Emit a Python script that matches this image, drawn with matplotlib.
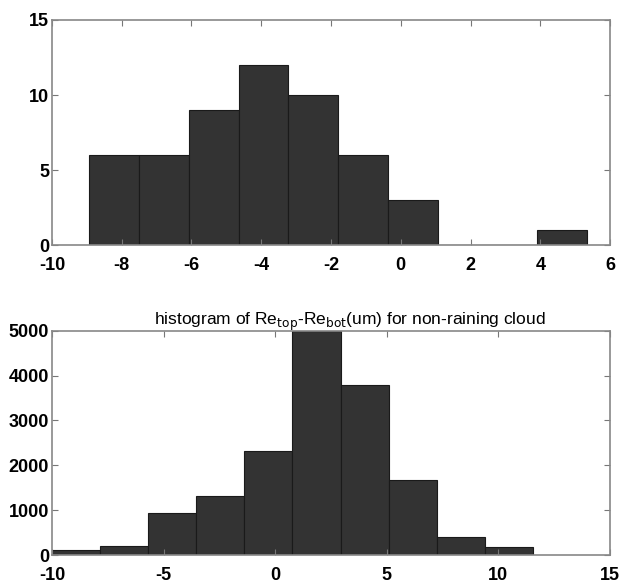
import matplotlib.pyplot as plt
import numpy as np

# histogram data (bin edges and counts)
top_edges = [-8.93, -7.50, -6.08, -4.65, -3.22, -1.80, -0.37, 1.06, 2.48, 3.91, 5.34]
top_counts = [6, 6, 9, 12, 10, 6, 3, 0, 0, 1]

bot_edges = [-10.03, -7.87, -5.70, -3.54, -1.39, 0.77, 2.93, 5.09, 7.24, 9.40, 11.56]
bot_counts = [110, 205, 930, 1310, 2310, 4990, 3790, 1670, 410, 175]

top_xticks = [-10, -8, -6, -4, -2, 0, 2, 4, 6]
top_yticks = [0, 5, 10, 15]
bot_xticks = [-10, -5, 0, 5, 10, 15]
bot_yticks = [0, 1000, 2000, 3000, 4000, 5000]

plt.rcParams['font.family'] = ['Liberation Sans', 'DejaVu Sans']
plt.rcParams['axes.unicode_minus'] = False

fig = plt.figure(figsize=(6.21, 5.88), dpi=100)
ax1 = fig.add_axes([0.0837, 0.5833, 0.8986, 0.3827])
ax2 = fig.add_axes([0.0837, 0.0561, 0.8986, 0.3815])


def draw(ax, edges, counts, xticks, yticks):
    edges = np.array(edges)
    ax.bar(edges[:-1], counts, width=np.diff(edges), align='edge',
           color='#333333', edgecolor='#1a1a1a', linewidth=0.8)
    ax.set_xlim(xticks[0], xticks[-1])
    ax.set_ylim(yticks[0], yticks[-1])
    ax.set_xticks(xticks)
    ax.set_yticks(yticks)
    ax.tick_params(direction='in', top=True, right=True, length=4.5,
                   color='#777777', labelsize=13)
    ax.tick_params(axis='x', pad=8.5)
    ax.tick_params(axis='y', pad=2)
    for lab in ax.get_xticklabels() + ax.get_yticklabels():
        lab.set_fontweight('bold')
    for s in ax.spines.values():
        s.set_color('#888888')
        s.set_linewidth(1.2)


draw(ax1, top_edges, top_counts, top_xticks, top_yticks)
draw(ax2, bot_edges, bot_counts, bot_xticks, bot_yticks)

ax2.set_title(r'histogram of Re$_{\mathrm{top}}$-Re$_{\mathrm{bot}}$(um) for non-raining cloud',
              fontsize=12.5, pad=4, x=0.534)

fig.savefig('out.png', dpi=100)
